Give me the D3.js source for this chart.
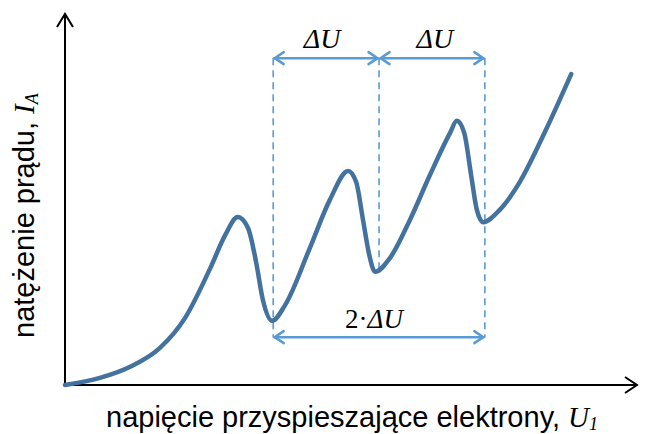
<!DOCTYPE html>
<html><head><meta charset="utf-8">
<script src="https://cdn.jsdelivr.net/npm/d3@7"></script>
<style>body{margin:0;background:#fff}svg{display:block}</style>
</head><body>
<svg id="c" width="649" height="434"></svg>
<script>
// Data: accelerating voltage U (arbitrary units) and anode current I (arbitrary units)
const voltage = [0, 6.1, 11.4, 16.6, 21.0, 25.4, 28.0, 30.2, 32.0, 33.4, 34.6, 36.2, 38.5, 42.8, 46.3, 49.5, 50.9, 52.1, 53.2, 54.2, 56.8, 60.3, 63.8, 67.3, 68.5, 69.8, 71.0, 72.0, 73.1, 76.0, 79.5, 83.9, 88.5];
const current = [0, 1.9, 4.9, 10.0, 18.1, 31.5, 40.4, 45.3, 42.3, 33.2, 22.9, 17.3, 21.6, 36.9, 49.9, 57.7, 54.7, 44.5, 35.0, 30.5, 34.2, 44.5, 56.6, 67.9, 71.2, 67.9, 56.6, 47.2, 43.9, 47.2, 54.7, 68.2, 83.8];
const minimaU = [36.4, 54.9, 73.4];
const labels = {y: "natężenie prądu, ", yVar: "I", ySub: "A", x: "napięcie przyspieszające elektrony, ", xVar: "U", xSub: "1", dU: "ΔU", twoDU: "2·ΔU"};

const svg = d3.select("#c");
const x = d3.scaleLinear().domain([0, 100]).range([65, 637]);
const y = d3.scaleLinear().domain([0, 100]).range([385, 14]);

const axisCol = "#000", curveCol = "#44729f", annCol = "#5b9bd5";

// axes
svg.append("line").attr("x1", x(0)).attr("y1", y(0)).attr("x2", x(100)).attr("y2", y(0)).attr("stroke", axisCol).attr("stroke-width", 2);
svg.append("line").attr("x1", x(0)).attr("y1", y(0)+1).attr("x2", x(0)).attr("y2", y(100)).attr("stroke", axisCol).attr("stroke-width", 2);
svg.append("path").attr("d", `M${x(100)-12},${y(0)-8}L${x(100)},${y(0)}L${x(100)-12},${y(0)+8}`).attr("fill", "none").attr("stroke", axisCol).attr("stroke-width", 2);
svg.append("path").attr("d", `M${x(0)-8},${y(100)+13}L${x(0)},${y(100)}L${x(0)+8},${y(100)+13}`).attr("fill", "none").attr("stroke", axisCol).attr("stroke-width", 2);

// annotation
const topI = 88.1, botI = 12.9;
const dash = svg.append("g").attr("stroke", annCol).attr("stroke-width", 1.6).attr("stroke-dasharray", "7,5");
dash.append("line").attr("x1", x(minimaU[0])).attr("x2", x(minimaU[0])).attr("y1", y(topI)).attr("y2", y(botI));
dash.append("line").attr("x1", x(minimaU[1])).attr("x2", x(minimaU[1])).attr("y1", y(topI)).attr("y2", y(30.5));
dash.append("line").attr("x1", x(minimaU[2])).attr("x2", x(minimaU[2])).attr("y1", y(topI)).attr("y2", y(botI));

function arrow(u1, u2, iv) {
  const g = svg.append("g").attr("stroke", annCol).attr("stroke-width", 2.5).attr("fill", "none").attr("stroke-linecap", "round");
  const X1 = x(u1)+1.5, X2 = x(u2)-1.5, Y = y(iv);
  g.append("line").attr("x1", X1).attr("x2", X2).attr("y1", Y).attr("y2", Y);
  g.append("path").attr("d", `M${X1+9},${Y-6}L${X1},${Y}L${X1+9},${Y+6}`);
  g.append("path").attr("d", `M${X2-9},${Y-6}L${X2},${Y}L${X2-9},${Y+6}`);
}
arrow(minimaU[0], minimaU[1], topI);
arrow(minimaU[1], minimaU[2], topI);
arrow(minimaU[0], minimaU[2], botI);

const serif = "'Liberation Serif','Times New Roman',serif";
svg.append("text").attr("x", (x(minimaU[0])+x(minimaU[1]))/2 - 4).attr("y", y(topI)-10).attr("text-anchor", "middle")
  .attr("font-family", serif).attr("font-style", "italic").attr("font-size", 28).text(labels.dU);
svg.append("text").attr("x", (x(minimaU[1])+x(minimaU[2]))/2 + 3).attr("y", y(topI)-10).attr("text-anchor", "middle")
  .attr("font-family", serif).attr("font-style", "italic").attr("font-size", 28).text(labels.dU);
const t2 = svg.append("text").attr("x", (x(minimaU[0])+x(minimaU[2]))/2 - 5).attr("y", y(botI)-9).attr("text-anchor", "middle")
  .attr("font-family", serif).attr("font-size", 27);
t2.append("tspan").text("2·");
t2.append("tspan").attr("font-style", "italic").text("ΔU");

// curve
const pts = voltage.map((v, i) => [v, current[i]]);
const line = d3.line().x(d => x(d[0])).y(d => y(d[1])).curve(d3.curveMonotoneX);
svg.append("path").attr("d", line(pts)).attr("fill", "none").attr("stroke", curveCol).attr("stroke-width", 4.5).attr("stroke-linecap", "round").attr("stroke-linejoin", "round");

// labels
const sans = "'Liberation Sans',Arial,sans-serif";
const xl = svg.append("text").attr("x", 106).attr("y", 427).attr("font-family", sans).attr("font-size", 29).attr("fill", "#000");
xl.append("tspan").text(labels.x);
xl.append("tspan").attr("font-family", serif).attr("font-style", "italic").text(labels.xVar);
xl.append("tspan").attr("font-family", serif).attr("font-style", "italic").attr("font-size", 18).attr("dy", 3).text(labels.xSub);

const yl = svg.append("text").attr("transform", "translate(34,338) rotate(-90)").attr("font-family", sans).attr("font-size", 29).attr("fill", "#000");
yl.append("tspan").text(labels.y);
yl.append("tspan").attr("font-family", serif).attr("font-style", "italic").text(labels.yVar);
yl.append("tspan").attr("font-family", serif).attr("font-style", "italic").attr("font-size", 18).attr("dy", 4).text(labels.ySub);
</script>
</body></html>
